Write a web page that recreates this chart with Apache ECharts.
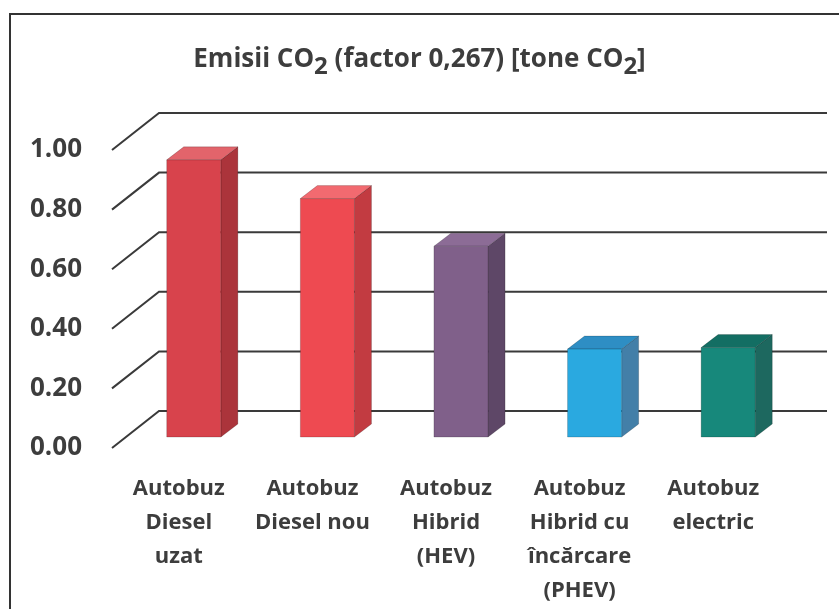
<!DOCTYPE html>
<html>
<head>
<meta charset="utf-8">
<script src="https://cdn.jsdelivr.net/npm/echarts@6/dist/echarts.min.js"></script>
<style>
  html, body { margin: 0; padding: 0; background: #fff; }
  #chart { width: 839px; height: 609px; }
</style>
</head>
<body>
<div id="chart"></div>
<script>
// Vehicle categories (bottom axis labels)
const categories = [
  'Autobuz\nDiesel\nuzat',
  'Autobuz\nDiesel nou',
  'Autobuz\nHibrid\n(HEV)',
  'Autobuz\nHibrid cu\nîncărcare\n(PHEV)',
  'Autobuz\nelectric'
];
// CO2 emissions [tone CO2]
const emissions = [0.93, 0.80, 0.64, 0.295, 0.30];
// Value axis ticks
const tickValues = [0, 0.2, 0.4, 0.6, 0.8, 1.0];

// Face colours for each column: front, top, side
const barColors = [
  { front: '#d8434c', top: '#e2646b', side: '#ab343b' },
  { front: '#ee4a51', top: '#f26a70', side: '#c23b41' },
  { front: '#80608a', top: '#8c6c96', side: '#5e4767' },
  { front: '#2aa9e0', top: '#2e8ec4', side: '#437fa8' },
  { front: '#17887b', top: '#136e63', side: '#1d685f' }
];

const TEXT = '#3d3d3d';
const FONT = '"Open Sans"';
// depth of the side wall (front plane -> back wall)
const WALL_DX = 47, WALL_DY = -37;
// depth of a column
const BAR_DX = 17, BAR_DY = -13;

const chart = echarts.init(document.getElementById('chart'), null, { renderer: 'canvas' });

const option = {
  backgroundColor: '#ffffff',
  animation: false,
  title: {
    left: 'center',
    top: 41,
    padding: 0,
    text: '{m|Emisii CO}{s|2}{m| (factor 0,267) [tone CO}{s|2}{m|]}',
    textStyle: {
      rich: {
        m: { fontFamily: FONT, fontWeight: 'bold', fontSize: 26, color: TEXT, lineHeight: 38, verticalAlign: 'middle' },
        s: { fontFamily: FONT, fontWeight: 'bold', fontSize: 24, color: TEXT, lineHeight: 20, verticalAlign: 'bottom' }
      }
    }
  },
  graphic: [{
    type: 'polyline',
    shape: { points: [[10, 609], [10, 14], [839, 14]] },
    style: { stroke: '#333', lineWidth: 2, fill: null },
    silent: true
  }],
  grid: [
    // front plane: axis labels and walls
    { left: 112, top: 150, width: 668, height: 298 },
    // plane through the front faces of the columns
    { left: 127, top: 139, width: 668, height: 298 }
  ],
  xAxis: [
    {
      type: 'category', gridIndex: 0, data: categories,
      axisLine: { show: false }, axisTick: { show: false }, splitLine: { show: false },
      axisLabel: {
        interval: 0, margin: 24, lineHeight: 34,
        fontFamily: FONT, fontWeight: 'bold', fontSize: 22, color: TEXT
      }
    },
    {
      type: 'category', gridIndex: 1, data: categories,
      show: false
    }
  ],
  yAxis: [
    {
      type: 'value', gridIndex: 0, min: 0, max: 1, interval: 0.2,
      axisLine: { show: false }, axisTick: { show: false }, splitLine: { show: false },
      axisLabel: {
        margin: 30, fontFamily: FONT, fontWeight: 'bold', fontSize: 26, color: TEXT,
        formatter: v => v.toFixed(2)
      }
    },
    {
      type: 'value', gridIndex: 1, min: 0, max: 1, interval: 0.2,
      show: false, splitLine: { show: false }
    }
  ],
  series: [
    {
      // side wall diagonals and back wall gridlines
      type: 'custom',
      xAxisIndex: 0, yAxisIndex: 0,
      z: 1, silent: true,
      data: tickValues.map(v => [0, v]),
      renderItem: function (params, api) {
        const cs = params.coordSys;
        const p = api.coord([0, api.value(1)]);
        const y = p[1];
        const x0 = cs.x;
        return {
          type: 'polyline',
          shape: {
            points: [
              [x0, y],
              [x0 + WALL_DX, y + WALL_DY],
              [x0 + cs.width + WALL_DX, y + WALL_DY]
            ]
          },
          style: { stroke: '#3a3a3a', lineWidth: 2, fill: null }
        };
      }
    },
    {
      // 3D columns
      type: 'custom',
      xAxisIndex: 1, yAxisIndex: 1,
      z: 3, silent: true,
      data: emissions.map((v, i) => [i, v]),
      renderItem: function (params, api) {
        const i = api.value(0);
        const top = api.coord([i, api.value(1)]);
        const base = api.coord([i, 0]);
        const bw = api.size([1, 0])[0] * 0.405;
        const xl = top[0] - bw / 2, xr = top[0] + bw / 2;
        const yt = top[1], yb = base[1];
        const c = barColors[i];
        const edge = 'rgba(0,0,0,0.18)';
        return {
          type: 'group',
          children: [
            {
              type: 'polygon',
              shape: { points: [[xr, yt], [xr + BAR_DX, yt + BAR_DY], [xr + BAR_DX, yb + BAR_DY], [xr, yb]] },
              style: { fill: c.side, stroke: edge, lineWidth: 1 }
            },
            {
              type: 'polygon',
              shape: { points: [[xl, yt], [xl + BAR_DX, yt + BAR_DY], [xr + BAR_DX, yt + BAR_DY], [xr, yt]] },
              style: { fill: c.top, stroke: edge, lineWidth: 1 }
            },
            {
              type: 'rect',
              shape: { x: xl, y: yt, width: bw, height: yb - yt },
              style: { fill: c.front, stroke: edge, lineWidth: 1 }
            }
          ]
        };
      }
    }
  ]
};

chart.setOption(option);
</script>
</body>
</html>
